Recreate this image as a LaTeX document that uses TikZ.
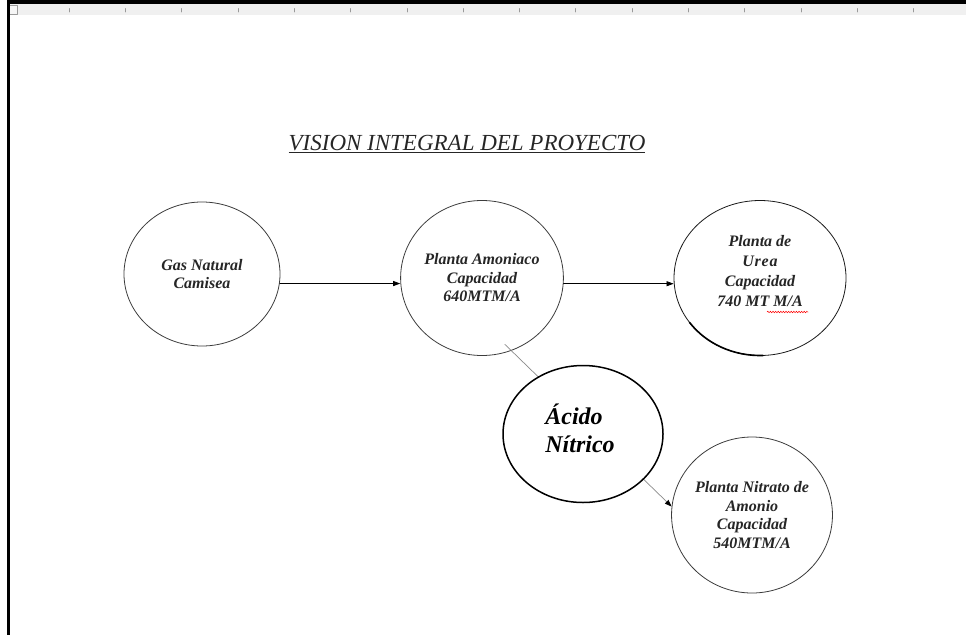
\documentclass[tikz,border=0pt]{standalone}
\usepackage{fontspec}
\setmainfont{Liberation Serif}
\usetikzlibrary{arrows.meta,calc,positioning,shapes.geometric,decorations.pathmorphing}
\definecolor{rulergray}{HTML}{F0F0F0}
\definecolor{tickgray}{HTML}{9A9A9A}
\definecolor{rimgray}{HTML}{3C3C3C}
\definecolor{linkgray}{HTML}{8A8A8A}
\newcommand{\plantfont}{\fontsize{16}{18.5}\selectfont\bfseries\itshape}
\tikzset{
  plant/.style={ellipse,draw=rimgray,line width=.8pt,fill=white,inner sep=0pt,
    align=center,font=\plantfont,text=black!85},
  flow/.style={line width=.7pt,-{Triangle[length=7pt,width=5pt]}},
  link/.style={draw=linkgray,line width=.7pt,-{Triangle[length=7pt,width=5pt,color=black]}},
  acid/.style={ellipse,draw=black,line width=1.5pt,fill=white,inner sep=0pt},
  acid label/.style={align=left,inner sep=0pt,font=\fontsize{24}{28}\selectfont\bfseries\itshape},
  ruler tick/.style={draw=tickgray,line width=.6pt}
}

\begin{document}
\begin{tikzpicture}[x=1pt,y=-1pt,line cap=round,line join=round]
  \useasboundingbox (0,0) rectangle (966,635);
  % page frame and ruler
  \fill[rulergray] (8,4) rectangle (966,14.5);
  \draw[tickgray,fill=rulergray!60] (9.5,5.5) rectangle (17.5,14);
  \foreach \i in {0,...,15} {\draw[ruler tick] ({69+56.3*\i},8.5) -- ++(0,3.5);}
  \fill[black] (7,0) rectangle (966,3.5);
  \fill[black] (7,0) rectangle (9.5,635);

  \node[anchor=base,inner sep=0pt,font=\fontsize{23}{26}\selectfont\itshape,text=black!85]
    (title) at (467,150) {\underline{VISION INTEGRAL DEL PROYECTO}};

  \node[plant,minimum width=156pt,minimum height=144pt] (gas) at (202,274)
    {Gas Natural\\Camisea};
  \node[plant,minimum width=155pt,minimum height=155pt] (amoniaco) at (482,278)
    {Planta Amoniaco\\Capacidad\\640MTM/A};
  \node[plant,draw=black!90,minimum width=172pt,minimum height=155pt,
    font=\fontsize{16}{20}\selectfont\bfseries\itshape] (urea) at (760,278)
    {Planta de\\U\kern.8pt r\kern.8pt e\kern.8pt a\\Capacidad\\740 MT M/A\\[-6pt]};
  \node[plant,minimum width=156pt,minimum height=156pt] (nitrato) at (752,515)
    {Planta Nitrato de\\Amonio\\Capacidad\\540MTM/A};

  \draw[flow] (gas.-7) -- (gas.-7 -| amoniaco.west);
  \draw[flow] (amoniaco.-4) -- (amoniaco.-4 -| urea.west);
  \draw[link,shorten <=-9pt] (amoniaco.-68) -- (nitrato.174);

  % darker stroke on the lower left of the urea circle
  \draw[line width=1.6pt] ($(urea.center)+(88:86 and 77.5)$)
    arc[start angle=88,end angle=145,x radius=86,y radius=77.5];
  \draw[red,line width=.5pt,decorate,decoration={snake,amplitude=.8pt,segment length=2.6pt}]
    ($(urea.center)+(7,34)$) -- ++(41,0);

  \node[acid,minimum width=160pt,minimum height=137pt] (acido) at (583,434) {};
  \node[acid label] (acidotext) at (580,428) {Ácido\\Nítrico};
\end{tikzpicture}
\end{document}
